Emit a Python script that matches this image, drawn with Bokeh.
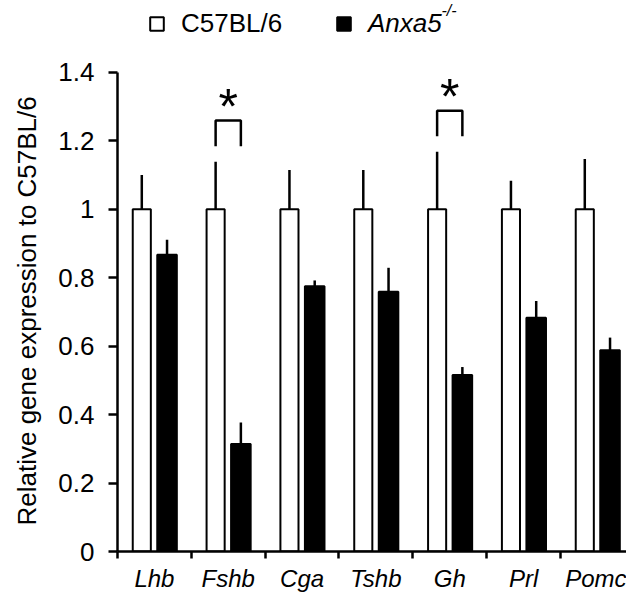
from bokeh.plotting import figure
from bokeh.models import ColumnDataSource, Range1d, FixedTicker, Legend, LegendItem, Label, Title
from bokeh.core.properties import value
from bokeh.embed import file_html
from bokeh.resources import INLINE

# ---------------- data ----------------
genes = ["Lhb", "Fshb", "Cga", "Tshb", "Gh", "Prl", "Pomc"]
wt_mean = [1.0, 1.0, 1.0, 1.0, 1.0, 1.0, 1.0]
wt_err = [0.100, 0.139, 0.115, 0.115, 0.168, 0.083, 0.147]
ko_mean = [0.867, 0.314, 0.775, 0.759, 0.516, 0.683, 0.588]
ko_err = [0.044, 0.063, 0.017, 0.070, 0.023, 0.049, 0.037]
sig_genes = ["Fshb", "Gh"]
sig_mark = "*"
y_ticks = [0, 0.2, 0.4, 0.6, 0.8, 1.0, 1.2, 1.4]
y_tick_labels = ["0", "0.2", "0.4", "0.6", "0.8", "1", "1.2", "1.4"]
y_title = "Relative gene expression to C57BL/6"
wt_label = "C57BL/6"
ko_label = "Anxa5"
ko_sup = "-/-"

# ---------------- style ----------------
FONT = "Liberation Sans"
OFF = 0.171
W_WT, W_KO = 0.245, 0.265
BR_GAP, BR_LEG, STAR_GAP = 0.045, 0.075, 0.04

n = len(genes)
centers = [i + 0.5 for i in range(n)]
x_wt = [c - OFF for c in centers]
x_ko = [c + OFF for c in centers]
src = ColumnDataSource(dict(
    x_wt=x_wt, x_ko=x_ko, wt=wt_mean, ko=ko_mean,
    wt_hi=[m + e for m, e in zip(wt_mean, wt_err)],
    ko_hi=[m + e for m, e in zip(ko_mean, ko_err)],
))

p = figure(width=626, height=594, output_backend="svg", toolbar_location=None,
           x_range=Range1d(0, 6.894), y_range=Range1d(0, 1.61),
           min_border_left=117, min_border_top=0, min_border_right=0, min_border_bottom=0)
p.outline_line_color = None
p.xgrid.grid_line_color = None
p.ygrid.grid_line_color = None
p.background_fill_color = "white"
p.border_fill_color = "white"

wt_r = p.vbar(x="x_wt", top="wt", width=W_WT, bottom=0, fill_color="white",
              line_color="black", line_width=2, source=src)
ko_r = p.vbar(x="x_ko", top="ko", width=W_KO, bottom=0, fill_color="black",
              line_color="black", line_width=2, source=src)
p.segment(x0="x_wt", y0="wt", x1="x_wt", y1="wt_hi", line_color="black", line_width=2.5, source=src)
p.segment(x0="x_ko", y0="ko", x1="x_ko", y1="ko_hi", line_color="black", line_width=2.5, source=src)

# significance brackets
bx, by, sx, sy = [], [], [], []
for g in sig_genes:
    i = genes.index(g)
    base = max(wt_mean[i] + wt_err[i], ko_mean[i] + ko_err[i]) + BR_GAP
    top = base + BR_LEG
    bx.append([x_wt[i], x_wt[i], x_ko[i], x_ko[i]])
    by.append([base, top, top, base])
    sx.append(centers[i])
    sy.append(top + STAR_GAP)
p.multi_line(xs=bx, ys=by, line_color="black", line_width=2.5)
p.text(x=sx, y=sy, text=[sig_mark] * len(sx), text_align="center", text_baseline="middle",
       text_font=value(FONT), text_font_size="50px", text_color="black")

# axes
ya = p.yaxis[0]
ya.bounds = (y_ticks[0], y_ticks[-1])
ya.ticker = FixedTicker(ticks=y_ticks)
ya.major_label_overrides = {t: l for t, l in zip(y_ticks, y_tick_labels)}
ya.major_tick_out = 9
ya.major_tick_in = 0
ya.minor_tick_out = 0
ya.minor_tick_in = 0
ya.major_label_standoff = 14
ya.major_label_text_font = FONT
ya.major_label_text_font_size = "26px"
ya.major_label_text_color = "black"
ya.axis_line_width = 2.5
ya.major_tick_line_width = 2.5
ya.axis_line_color = "black"
ya.major_tick_line_color = "black"

# y title as a left-side title so it can be centred on the 0..1.4 span
p.add_layout(Title(text=y_title, align="left", vertical_align="top", offset=26, standoff=23,
                   text_font=FONT, text_font_size="26px", text_font_style="normal",
                   text_color="black"), "left")

xa = p.xaxis[0]
xa.ticker = FixedTicker(ticks=centers, minor_ticks=list(range(n + 1)))
xa.major_label_overrides = {c: g for c, g in zip(centers, genes)}
xa.major_tick_out = 0
xa.major_tick_in = 0
xa.minor_tick_out = 7
xa.minor_tick_in = 0
xa.minor_tick_line_color = "black"
xa.minor_tick_line_width = 2.5
xa.major_label_standoff = 6
xa.major_label_text_font = FONT
xa.major_label_text_font_size = "24px"
xa.major_label_text_font_style = "italic"
xa.major_label_text_color = "black"
xa.axis_line_width = 2.5
xa.axis_line_color = "black"

# legends
def mk_legend(label, r, loc, style):
    lg = Legend(items=[LegendItem(label=label, renderers=[r])], location=loc,
                orientation="horizontal", padding=0, margin=0, spacing=0,
                glyph_width=17, glyph_height=17, label_standoff=16,
                label_text_font=FONT, label_text_font_size="26px",
                label_text_font_style=style, label_text_color="black",
                border_line_color=None, background_fill_alpha=0)
    p.add_layout(lg)
    return lg

mk_legend(wt_label, wt_r, (31, 512), "normal")
mk_legend(ko_label, ko_r, (218, 512), "italic")
p.add_layout(Label(x=324, y=541, x_units="screen", y_units="screen", text=ko_sup,
                   text_font=FONT, text_font_size="16px", text_font_style="italic",
                   text_baseline="middle", text_color="black"))

open("out.html", "w").write(file_html(p, INLINE))
